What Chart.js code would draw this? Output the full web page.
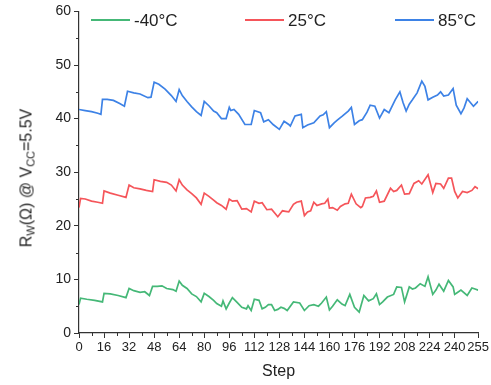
<!DOCTYPE html>
<html>
<head>
<meta charset="utf-8">
<script src="https://cdn.jsdelivr.net/npm/chart.js@4"></script>
<style>
  body { margin: 0; background: #fff; }
  #wrap { position: relative; width: 491px; height: 385px; }
  #ytitle {
    position: absolute; left: 27px; top: 178px;
    transform: translate(-50%, -50%) rotate(-90deg);
    white-space: nowrap;
    font-family: "Liberation Sans", Arial, sans-serif;
    font-size: 16px; color: #222;
  }
  #ytitle sub { font-size: 11px; vertical-align: -3px; }
</style>
</head>
<body>
<div id="wrap">
  <canvas id="grafico" width="491" height="385"></canvas>
  <div id="ytitle">R<sub>W</sub>(&Omega;) @ V<sub>CC</sub>=5.5V</div>
</div>
<script>
// ======== DADOS ========
const nomes = ["-40°C", "25°C", "85°C"];
const cores = ["#45b877", "#f5555a", "#3d82e6"];
const xTicks = [0, 16, 32, 48, 64, 80, 96, 112, 128, 144, 160, 176, 192, 208, 224, 240, 255];
const yTicks = [0, 10, 20, 30, 40, 50, 60];

const passosVerde = [0, 1, 5, 10, 15, 16, 20, 25, 30, 32, 35, 39, 42, 45, 47, 50, 53, 56, 60, 62, 64, 66, 69, 72, 75, 78, 80, 83, 86, 88, 91, 92, 94, 96, 98, 101, 104, 107, 108, 110, 112, 115, 117, 119, 121, 123, 125, 127, 129, 131, 133, 137, 141, 144, 147, 150, 153, 155, 158, 160, 162, 165, 168, 170, 173, 176, 179, 182, 185, 188, 190, 192, 194, 197, 201, 203, 206, 208, 211, 213, 215, 218, 221, 223, 226, 228, 230, 233, 236, 239, 240, 242, 244, 248, 251, 253, 255];
const valoresVerde = [5.3, 6.5, 6.3, 6.1, 5.8, 7.4, 7.3, 7.0, 6.6, 8.3, 7.9, 7.6, 7.7, 7.0, 8.7, 8.7, 8.8, 8.3, 8.1, 7.8, 9.7, 8.9, 8.3, 7.3, 6.8, 5.8, 7.4, 6.8, 6.1, 5.5, 5.0, 6.0, 4.5, 5.6, 6.6, 5.7, 4.8, 4.5, 5.1, 4.2, 6.3, 6.1, 4.5, 4.8, 5.3, 5.3, 4.2, 4.4, 4.8, 4.6, 4.2, 5.8, 5.6, 4.2, 5.1, 5.3, 5.0, 5.6, 6.7, 4.3, 5.0, 6.2, 5.4, 5.1, 7.2, 4.8, 3.9, 7.0, 6.0, 6.4, 7.3, 5.3, 5.8, 6.7, 7.2, 8.6, 8.5, 5.8, 8.6, 8.2, 8.4, 9.2, 8.7, 10.5, 7.2, 8.0, 9.1, 7.8, 9.8, 8.6, 7.2, 7.6, 8.0, 7.0, 8.4, 8.2, 8.0];

const passosVermelho = [0, 1, 4, 8, 12, 15, 16, 20, 25, 30, 32, 35, 39, 43, 47, 48, 52, 56, 59, 62, 64, 66, 69, 72, 75, 78, 80, 83, 86, 88, 91, 94, 96, 98, 101, 104, 107, 110, 112, 115, 117, 120, 123, 127, 130, 132, 134, 137, 139, 142, 144, 146, 148, 150, 152, 155, 157, 159, 160, 162, 165, 167, 170, 172, 174, 177, 180, 181, 183, 186, 188, 190, 192, 195, 199, 201, 203, 206, 208, 211, 214, 217, 219, 223, 226, 228, 231, 233, 236, 238, 240, 242, 245, 248, 251, 253, 255];
const valoresVermelho = [23.4, 25.1, 25.0, 24.6, 24.4, 24.2, 26.5, 26.1, 25.7, 25.3, 27.6, 27.1, 26.9, 26.6, 26.4, 28.6, 28.3, 28.1, 27.6, 26.5, 28.6, 27.6, 26.7, 26.0, 25.2, 24.0, 26.1, 25.5, 24.8, 24.3, 23.8, 23.1, 25.0, 24.6, 24.7, 23.1, 23.2, 22.6, 24.6, 24.2, 24.3, 23.0, 23.1, 21.7, 22.8, 22.7, 22.6, 24.0, 24.4, 24.6, 21.9, 22.6, 22.8, 24.4, 23.8, 24.1, 24.2, 25.0, 23.3, 23.4, 22.9, 23.6, 24.1, 24.2, 25.9, 24.1, 23.4, 23.6, 25.2, 25.3, 25.5, 26.5, 24.4, 24.6, 27.0, 26.4, 26.6, 27.6, 25.9, 26.0, 27.9, 28.4, 27.8, 29.5, 26.2, 27.9, 27.8, 27.0, 28.9, 28.9, 26.4, 25.2, 26.4, 26.2, 26.6, 27.3, 26.9];

const passosAzul = [0, 4, 8, 12, 14, 15, 18, 22, 26, 29, 31, 35, 39, 44, 46, 48, 51, 55, 59, 62, 64, 66, 69, 72, 75, 78, 80, 83, 86, 88, 91, 94, 96, 97, 99, 102, 106, 110, 112, 116, 118, 121, 124, 128, 131, 134, 135, 138, 142, 143, 146, 150, 154, 156, 158, 160, 163, 165, 168, 172, 174, 176, 179, 181, 184, 186, 189, 192, 195, 198, 202, 205, 207, 209, 211, 213, 216, 219, 221, 223, 226, 229, 231, 233, 236, 239, 241, 244, 246, 248, 250, 252, 255];
const valoresAzul = [41.7, 41.5, 41.3, 41.0, 40.8, 43.6, 43.6, 43.4, 42.8, 42.3, 45.1, 44.8, 44.6, 43.9, 44.0, 46.8, 46.4, 45.5, 44.3, 43.2, 45.4, 44.3, 43.2, 42.2, 41.3, 40.6, 43.2, 42.4, 41.4, 41.1, 40.0, 40.0, 42.1, 41.5, 41.7, 40.8, 38.9, 38.9, 41.5, 41.1, 39.4, 39.8, 38.9, 38.0, 39.5, 38.9, 38.6, 40.5, 40.8, 38.3, 38.8, 39.2, 40.5, 40.7, 41.3, 38.3, 39.2, 39.7, 40.4, 41.4, 42.1, 38.9, 39.6, 39.8, 41.2, 42.5, 42.3, 40.1, 41.7, 41.1, 43.5, 45.0, 43.0, 41.4, 42.7, 43.5, 44.8, 47.0, 46.0, 43.5, 44.0, 44.4, 45.0, 44.2, 44.4, 45.6, 42.5, 40.9, 42.0, 43.7, 43.0, 42.3, 43.2];

const passos = [passosVerde, passosVermelho, passosAzul];
const valores = [valoresVerde, valoresVermelho, valoresAzul];

const fonte = "'Liberation Sans', Arial, sans-serif";

// ======== LEGENDA DENTRO DO GRÁFICO ========
const legendaInterna = {
    id: "legendaInterna",
    afterDraw(chart) {
        const ctx = chart.ctx;
        const posX = [91, 245, 395];
        const y = 20;
        ctx.save();
        ctx.font = "17px " + fonte;
        ctx.textBaseline = "middle";
        chart.data.datasets.forEach((ds, i) => {
            ctx.strokeStyle = ds.borderColor;
            ctx.lineWidth = 2;
            ctx.beginPath();
            ctx.moveTo(posX[i], y);
            ctx.lineTo(posX[i] + 39, y);
            ctx.stroke();
            ctx.fillStyle = "#222";
            ctx.fillText(ds.label, posX[i] + 43, y + 1);
        });
        ctx.restore();
    }
};

// ======== TICKS MENORES ========
const ticksMenores = {
    id: "ticksMenores",
    afterDraw(chart) {
        const ctx = chart.ctx;
        const sx = chart.scales.x, sy = chart.scales.y;
        const area = chart.chartArea;
        ctx.save();
        ctx.strokeStyle = "#333";
        ctx.lineWidth = 1;
        ctx.beginPath();
        for (let i = 0; i < xTicks.length - 2; i++) {
            const px = Math.round(sx.getPixelForValue(xTicks[i] + 8)) + 0.5;
            ctx.moveTo(px, area.bottom);
            ctx.lineTo(px, area.bottom + 3);
        }
        for (let i = 0; i < yTicks.length - 1; i++) {
            const py = Math.round(sy.getPixelForValue(yTicks[i] + 5)) + 0.5;
            ctx.moveTo(area.left, py);
            ctx.lineTo(area.left - 3, py);
        }
        ctx.stroke();
        ctx.restore();
    }
};

// ======== GERA GRÁFICO ========
const ctx = document.getElementById("grafico").getContext("2d");

new Chart(ctx, {
    type: "line",
    data: {
        datasets: nomes.map((nome, i) => ({
            label: nome,
            data: passos[i].map((p, j) => ({ x: p, y: valores[i][j] })),
            borderColor: cores[i],
            borderWidth: 1.7,
            pointRadius: 0,
            tension: 0,
            fill: false
        }))
    },
    options: {
        responsive: false,
        animation: false,
        layout: { padding: { top: 10, right: 12, left: 39, bottom: 0 } },
        scales: {
            x: {
                type: "linear",
                min: 0,
                max: 255,
                afterBuildTicks: s => { s.ticks = xTicks.map(v => ({ value: v })); },
                afterFit: s => { s.height = 52; },
                grid: { drawOnChartArea: false, tickLength: 5, color: "#333", tickColor: "#333" },
                border: { color: "#333", width: 1.2 },
                ticks: { autoSkip: false, maxRotation: 0, color: "#222", padding: 2, font: { family: fonte, size: 13 } },
                title: { display: true, text: "Step", color: "#222", padding: { top: 4 }, font: { family: fonte, size: 16 } }
            },
            y: {
                min: 0,
                max: 60,
                afterBuildTicks: s => { s.ticks = yTicks.map(v => ({ value: v })); },
                afterFit: s => { s.width = 40; },
                grid: { drawOnChartArea: false, tickLength: 5, color: "#333", tickColor: "#333" },
                border: { color: "#333", width: 1.2 },
                ticks: { color: "#222", padding: 3, font: { family: fonte, size: 14 } }
            }
        },
        plugins: {
            legend: { display: false },
            tooltip: { enabled: false }
        }
    },
    plugins: [legendaInterna, ticksMenores]
});
</script>
</body>
</html>
